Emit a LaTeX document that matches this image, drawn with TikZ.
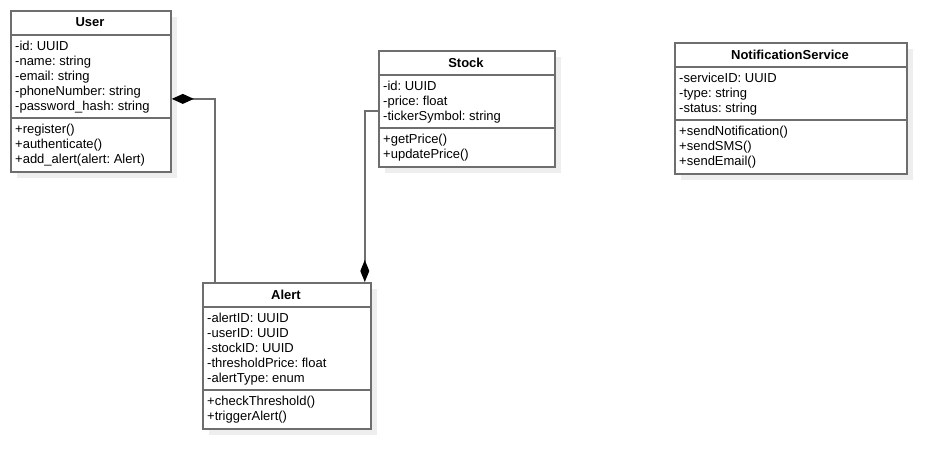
\documentclass[tikz,border=0pt]{standalone}
\usepackage{fontspec}
\setmainfont{Liberation Sans}
\usetikzlibrary{arrows.meta,calc}
\definecolor{edge}{HTML}{6E6E6E}
\definecolor{shade}{HTML}{EEEEEE}
\tikzset{
  classbox/.style={draw=edge, line width=1.8pt, fill=white, anchor=north west, inner sep=0pt},
  shadowbox/.style={fill=shade, draw=none},
  sepline/.style={draw=edge, line width=1.8pt},
  title/.style={font=\fontsize{13}{15}\selectfont\bfseries, inner sep=0pt, text=black},
  txt/.style={font=\fontsize{13}{15}\selectfont, inner sep=0pt, anchor=base west, text=black},
  comp/.style={draw=edge, line width=1.8pt, {Diamond[length=22pt,width=10pt,fill=black,color=black]}-},
  compend/.style={draw=edge, line width=1.8pt, -{Diamond[length=22pt,width=9pt,fill=black,color=black]}},
}
\frenchspacing
\begin{document}
\begin{tikzpicture}[x=1pt,y=-1pt]
\useasboundingbox[fill=white] (0,0) rectangle (947,468);
% shadows
\fill[shadowbox] (17,17) rectangle (177,178);
\fill[shadowbox] (385,57) rectangle (561,173);
\fill[shadowbox] (681,49) rectangle (913,180);
\fill[shadowbox] (209,289) rectangle (377,435);
% User
\node[classbox, minimum width=160pt, minimum height=161pt] (user) at (10,10) {};
\draw[sepline] (10,35) -- (170,35);
\draw[sepline] (10,118) -- (170,118);
\node[title] (usert) at (90,22.5) {User};
\foreach \t [count=\i] in {-id: UUID,-name: string,-email: string,-phoneNumber: string,-password\_hash: string}
  \node[txt] (ua\i) at (15,50.2+15*\i-15) {\t};
\foreach \t [count=\i] in {+register(),+authenticate(),+add\_alert(alert: Alert)}
  \node[txt] (um\i) at (15,133.2+15*\i-15) {\t};
% Stock
\node[classbox, minimum width=176pt, minimum height=116pt] (stock) at (378,50) {};
\draw[sepline] (378,75) -- (554,75);
\draw[sepline] (378,128) -- (554,128);
\node[title] (stockt) at (466,62.5) {Stock};
\foreach \t [count=\i] in {-id: UUID,-price: float,-tickerSymbol: string}
  \node[txt] (sa\i) at (383,90.2+15*\i-15) {\t};
\foreach \t [count=\i] in {+getPrice(),+updatePrice()}
  \node[txt] (sm\i) at (383,143.2+15*\i-15) {\t};
% NotificationService
\node[classbox, minimum width=232pt, minimum height=131pt] (notif) at (674,42) {};
\draw[sepline] (674,67) -- (906,67);
\draw[sepline] (674,120) -- (906,120);
\node[title] (notift) at (790,54.5) {NotificationService};
\foreach \t [count=\i] in {-serviceID: UUID,-type: string,-status: string}
  \node[txt] (na\i) at (679,82.2+15*\i-15) {\t};
\foreach \t [count=\i] in {+sendNotification(),+sendSMS(),+sendEmail()}
  \node[txt] (nm\i) at (679,135.2+15*\i-15) {\t};
% Alert
\node[classbox, minimum width=168pt, minimum height=146pt] (alert) at (202,282) {};
\draw[sepline] (202,307) -- (370,307);
\draw[sepline] (202,390) -- (370,390);
\node[title] (alertt) at (286,294.5) {Alert};
\foreach \t [count=\i] in {-alertID: UUID,-userID: UUID,-stockID: UUID,-thresholdPrice: float,-alertType: enum}
  \node[txt] (aa\i) at (207,322.2+15*\i-15) {\t};
\foreach \t [count=\i] in {+checkThreshold(),+triggerAlert()}
  \node[txt] (am\i) at (207,405.2+15*\i-15) {\t};
% connectors
\draw[comp] ([yshift=-7.5pt]user.east) -| ([xshift=13pt]alert.north west);
\draw[compend] ([yshift=-2pt]stock.west) -| ([xshift=-7pt]alert.north east);
\end{tikzpicture}
\end{document}
